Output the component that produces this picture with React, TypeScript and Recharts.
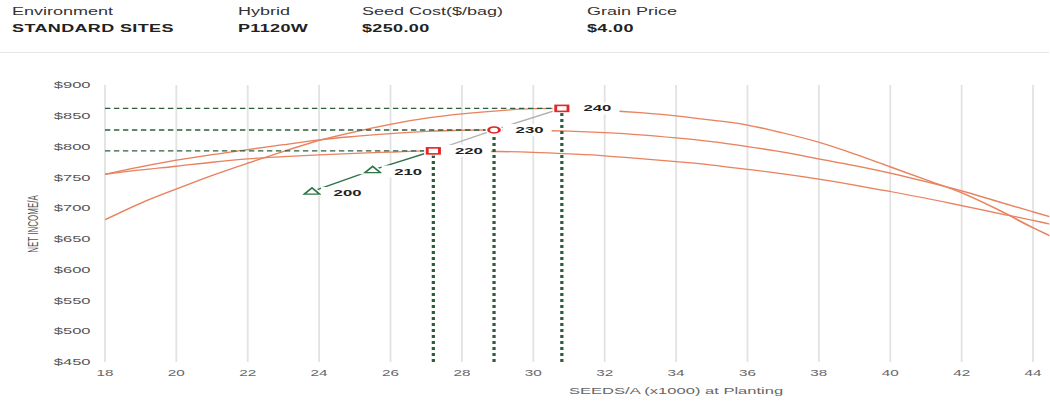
import React from 'react';
import { LineChart, Line, XAxis, YAxis, CartesianGrid, LabelList } from 'recharts';

// ---- data ----
const seedRates = [18, 19, 20, 21, 22, 23, 24, 25, 26, 27, 28, 29, 30, 31, 32, 33, 34, 35, 36, 37, 38, 39, 40, 41, 42, 43, 44, 45];
const income240 = [681, 708, 731, 753, 773, 792, 810, 824, 836, 846, 853, 858, 861.5, 862, 859, 855, 850, 843, 835, 822, 807, 788, 767, 746, 725, 698, 668, 641];
const income230 = [755, 767, 778, 787, 795, 803, 811, 816.5, 821, 824.5, 826.5, 827, 826.5, 825, 822.5, 819, 814, 808, 800, 791, 780, 769, 757, 743, 728, 711, 694, 677];
const income220 = [755, 762, 768, 774.5, 780, 783.5, 786.5, 789, 791, 793, 792.5, 792, 790.5, 788, 785, 780.5, 775.5, 770, 763, 755.5, 747, 737.5, 727, 716, 704, 692, 680, 667];

const optimumX = [23.8, 25.5, 27.2, 28.9, 30.8];
const optimumY = [727, 762, 793, 827, 862];
const optimumLabels = ['200', '210', '220', '230', '240'];
const markerShapes = ['triangle', 'triangle', 'square', 'circle', 'square'];

const xTicks = [18, 20, 22, 24, 26, 28, 30, 32, 34, 36, 38, 40, 42, 44];
const yTicks = [450, 500, 550, 600, 650, 700, 750, 800, 850, 900];

const headerTitles = ['Environment', 'Hybrid', 'Seed Cost($/bag)', 'Grain Price'];
const headerValues = ['STANDARD SITES', 'P1120W', '$250.00', '$4.00'];

// ---- derived tables ----
const xMin = 18;
const yMin = 450;
const curve = (vals: number[]) => seedRates.map((x, i) => ({ x, y: vals[i] }));
const curves = [curve(income240), curve(income230), curve(income220)];
const points = optimumX.map((x, i) => ({ x, y: optimumY[i], label: optimumLabels[i], shape: markerShapes[i] }));
const greenPath = points.slice(0, 3);
const grayPath = points.slice(2, 5);
const guideH = points.slice(2).map((p) => [{ x: xMin, y: p.y }, { x: p.x, y: p.y }]);
const guideV = points.slice(2).map((p) => [{ x: p.x, y: yMin }, { x: p.x, y: p.y }]);

// ---- style ----
const S = 1.8; // horizontal stretch of the reference
const FONT = "'Liberation Sans', Arial, sans-serif";
const ORANGE = '#e8835f';
const RED = '#e32626';
const GREEN = '#2f7448';
const DKGREEN = '#2d5f3f';

const Marker = (props: any) => {
  const { cx, cy, payload, index } = props;
  if (cx == null || cy == null) return <g key={`m${index}`} />;
  const shape = payload.shape;
  if (shape === 'triangle') {
    const pts = `${cx},${cy - 3.6} ${cx + 4.3},${cy + 2.6} ${cx - 4.3},${cy + 2.6}`;
    return (
      <g key={`m${index}`}>
        <polygon points={pts} fill="#fff" stroke="#fff" strokeWidth={3.4} />
        <polygon points={pts} fill="#fff" stroke={GREEN} strokeWidth={1.2} />
      </g>
    );
  }
  if (shape === 'circle') {
    return (
      <g key={`m${index}`}>
        <circle cx={cx} cy={cy} r={3} fill="#fff" stroke="#fff" strokeWidth={3.6} />
        <circle cx={cx} cy={cy} r={3} fill="#fff" stroke={RED} strokeWidth={1.6} />
      </g>
    );
  }
  return (
    <g key={`m${index}`}>
      <rect x={cx - 3.4} y={cy - 3} width={6.8} height={6} fill="#fff" stroke="#fff" strokeWidth={3.4} />
      <rect x={cx - 3.4} y={cy - 3} width={6.8} height={6} fill="#fff" stroke={RED} strokeWidth={1.6} />
    </g>
  );
};

const PointLabel = (props: any) => {
  const { x, y, value, index } = props;
  const dy = index < 2 ? 1.5 : 0;
  return (
    <g>
      <rect x={x + 5} y={y - 6 + dy} width={27} height={12} fill="#fff" />
      <text
        x={x + 12}
        y={y + dy}
        dominantBaseline="central"
        fontFamily={FONT}
        fontSize={9.3}
        fontWeight={700}
        fill="#222"
      >
        {value}
      </text>
    </g>
  );
};

export default function App() {
  return (
    <div style={{ position: 'absolute', left: 0, top: 0, width: 1050, height: 412, overflow: 'hidden', background: '#fff' }}>
      <div
        style={{
          position: 'absolute',
          left: 0,
          top: 0,
          width: 1050 / S,
          height: 412,
          overflow: 'hidden',
          transform: `scaleX(${S})`,
          transformOrigin: '0 0',
          fontFamily: FONT,
        }}
      >
        {headerTitles.map((t, i) => {
          const lefts = [6.7, 132.2, 201.1, 326.1];
          return (
            <React.Fragment key={t}>
              <div style={{ position: 'absolute', left: lefts[i], top: 6.5, fontSize: 10, lineHeight: '10px', color: '#333', whiteSpace: 'nowrap' }}>
                {t}
              </div>
              <div
                style={{
                  position: 'absolute',
                  left: lefts[i],
                  top: 24,
                  fontSize: 10,
                  lineHeight: '10px',
                  fontWeight: 700,
                  letterSpacing: 0.2,
                  color: '#222',
                  whiteSpace: 'nowrap',
                }}
              >
                {headerValues[i]}
              </div>
            </React.Fragment>
          );
        })}
        <div style={{ position: 'absolute', left: 0, top: 52, width: 1050 / S, height: 1, background: '#e6e6e6' }} />

        <div style={{ position: 'absolute', left: 0, top: 0 }}>
          <LineChart width={695} height={412} margin={{ top: 85, right: 2.1, bottom: 20, left: 8.3 }}>
            <CartesianGrid horizontal={false} stroke="#e2e2e2" strokeWidth={1} />
            <XAxis
              type="number"
              dataKey="x"
              domain={[18, 50]}
              ticks={xTicks}
              allowDataOverflow
              axisLine={false}
              tickLine={false}
              height={30}
              tick={{ fontSize: 8.5, fill: '#666', fontFamily: FONT }}
              label={{
                content: (p: any) => {
                  const vb = p.viewBox || {};
                  return (
                    <text
                      x={(vb.x ?? 58.3) + (vb.width ?? 634.6) / 2}
                      y={394}
                      textAnchor="middle"
                      fontFamily={FONT}
                      fontSize={9.2}
                      fill="#666"
                    >
                      SEEDS/A (x1000) at Planting
                    </text>
                  );
                },
              }}
            />
            <YAxis
              type="number"
              domain={[450, 900]}
              ticks={yTicks}
              width={50}
              axisLine={false}
              tickLine={false}
              tickFormatter={(v: number) => `$${v}`}
              tick={{ fontSize: 9.2, fill: '#555', fontFamily: FONT }}
              label={{
                content: () => (
                  <text
                    x={17.8}
                    y={224}
                    transform="rotate(-90 17.8 224)"
                    textAnchor="middle"
                    dominantBaseline="central"
                    fontFamily={FONT}
                    fontSize={8}
                    fill="#555"
                  >
                    NET INCOME/A
                  </text>
                ),
              }}
            />
            {curves.map((d, i) => (
              <Line
                key={`c${i}`}
                data={d}
                dataKey="y"
                type="monotone"
                stroke={ORANGE}
                strokeWidth={1.3}
                dot={false}
                activeDot={false}
                isAnimationActive={false}
              />
            ))}
            {guideH.map((d, i) => (
              <Line
                key={`h${i}`}
                data={d}
                dataKey="y"
                type="linear"
                stroke={DKGREEN}
                strokeWidth={1.4}
                strokeDasharray="3 2"
                dot={false}
                activeDot={false}
                isAnimationActive={false}
              />
            ))}
            {guideV.map((d, i) => (
              <Line
                key={`v${i}`}
                data={d}
                dataKey="y"
                type="linear"
                stroke={DKGREEN}
                strokeWidth={1.8}
                strokeDasharray="3 3"
                dot={false}
                activeDot={false}
                isAnimationActive={false}
              />
            ))}
            <Line
              data={grayPath}
              dataKey="y"
              type="linear"
              stroke="#b0b0b0"
              strokeWidth={1.2}
              dot={false}
              activeDot={false}
              isAnimationActive={false}
            />
            <Line
              data={greenPath}
              dataKey="y"
              type="linear"
              stroke={GREEN}
              strokeWidth={1.3}
              dot={false}
              activeDot={false}
              isAnimationActive={false}
            />
            <Line
              data={points}
              dataKey="y"
              type="linear"
              stroke="none"
              dot={(p: any) => <Marker {...p} />}
              activeDot={false}
              isAnimationActive={false}
            >
              <LabelList dataKey="label" content={(p: any) => <PointLabel {...p} />} />
            </Line>
          </LineChart>
        </div>
      </div>
    </div>
  );
}
